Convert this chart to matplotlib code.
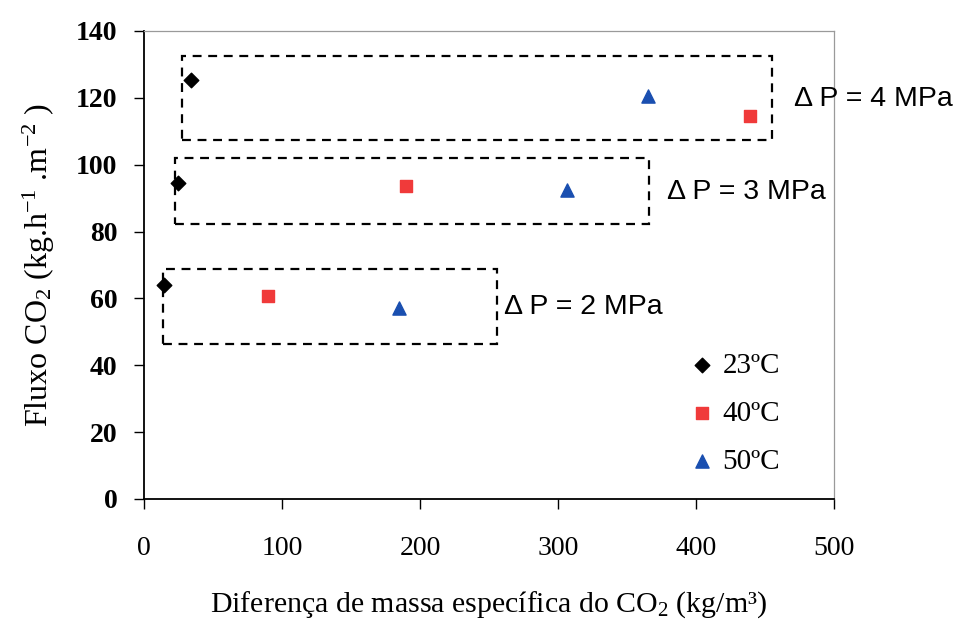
import matplotlib.pyplot as plt
from matplotlib.patches import Rectangle

# data
x23 = [14.5, 25, 34]
y23 = [64, 94.6, 125.3]
x40 = [90, 190, 439]
y40 = [60.7, 93.7, 114.7]
x50 = [185, 306.5, 365]
y50 = [57, 92.5, 120.4]

# dashed groups: (x0, x1, y0, y1) and their labels
groups = [(14, 256, 46.5, 68.8), (22.5, 366, 82.3, 102), (27.5, 455, 107.5, 132.4)]
group_labels = ["\u0394 P = 2 MPa", "\u0394 P = 3 MPa", "\u0394 P = 4 MPa"]
label_gap = [5, 13, 16]

serif = "Liberation Serif"
sans = "Liberation Sans"
plt.rcParams["mathtext.default"] = "regular"

fig = plt.figure(figsize=(9.58, 6.19), dpi=100)
ax = fig.add_axes([0.1503, 0.1939, 0.7203, 0.7561])

ax.scatter(x23, y23, marker="D", s=55, color="black", label="23\u00baC", zorder=3)
ax.scatter(x40, y40, marker="s", s=80, color="#f03a3a", label="40\u00baC", zorder=3)
ax.scatter(x50, y50, marker="^", s=90, color="#1a4fb0", label="50\u00baC", zorder=3)

for (x0, x1, y0, y1), lab, gap in zip(groups, group_labels, label_gap):
    ax.add_patch(Rectangle((x0, y0), x1 - x0, y1 - y0, fill=False, ls=(0, (4, 3)),
                           lw=1.6, ec="black", clip_on=False))
    ax.text(x1 + gap, (y0 + y1) / 2 - 0.2, lab, family=sans, fontsize=20.5,
            va="center", ha="left", clip_on=False)

ax.set_xlim(0, 500)
ax.set_ylim(0, 140)
ax.set_xticks(range(0, 501, 100))
ax.set_yticks(range(0, 141, 20))
ax.tick_params(axis="x", direction="out", length=7, width=1, pad=20)
ax.tick_params(axis="y", direction="out", length=7, width=1, pad=12)
for t in ax.get_xticklabels():
    t.set_family(serif)
    t.set_fontsize(20)
for t in ax.get_yticklabels():
    t.set_family(serif)
    t.set_fontsize(20)
    t.set_fontweight("bold")

for s in ["top", "right"]:
    ax.spines[s].set_color("#9a9a9a")
    ax.spines[s].set_linewidth(0.9)
for s in ["left", "bottom"]:
    ax.spines[s].set_linewidth(1.3)

ax.set_xlabel("Diferen\u00e7a de massa espec\u00edfica do CO$_2$ (kg/m\u00b3)", family=serif,
              fontsize=21.5, labelpad=20)
ax.set_ylabel("Fluxo CO$_2$ (kg.h$^{-1}$ .m$^{-2}$ )", family=serif, fontsize=23,
              labelpad=14)

leg = ax.legend(loc="lower right", bbox_to_anchor=(0.939, 0.026), frameon=False,
                prop={"family": serif, "size": 21}, handletextpad=0.2,
                labelspacing=0.75, handlelength=1.0, borderaxespad=0)

fig.savefig("out.png", dpi=100)
